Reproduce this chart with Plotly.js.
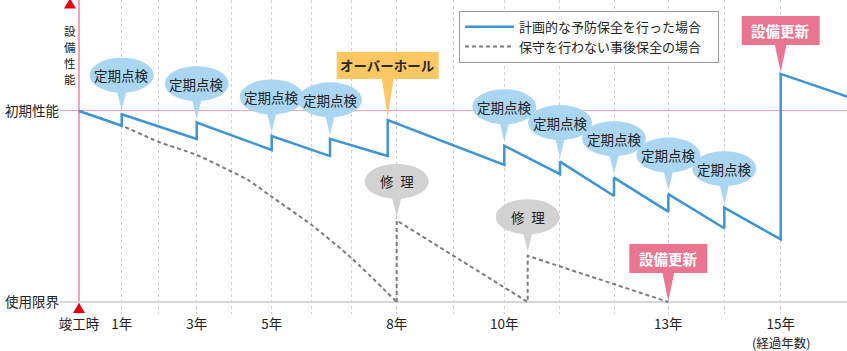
<!DOCTYPE html>
<html><head><meta charset="utf-8">
<script src="https://cdn.plot.ly/plotly-3.0.1.min.js"></script>
<style>html,body{margin:0;padding:0;background:#fff}#chart{width:847px;height:351px}</style>
</head><body><div id="chart"></div>
<script>
// x: schematic position along the elapsed-time axis (0 = 竣工時)
// y: equipment performance (100 = 初期性能, 0 = 使用限界)
const yearPos = [0, 42.7, 79.3, 117.7, 152.7, 192.7, 232.7, 272.7, 317.7, 374, 425.3, 480, 535, 589.3, 645.3, 701.7];
const yearLabels = ['竣工時', '1年', '', '3年', '', '5年', '', '', '8年', '', '10年', '', '', '13年', '', '15年'];
const xAxisUnit = '(経過年数)';
const perfVals = [0, 100];
const perfLabels = ['使用限界', '初期性能'];
const axisTitleChars = ['設', '備', '性', '能'];

const seriesNames = ['計画的な予防保全を行った場合', '保守を行わない事後保全の場合'];

const planX = [0, 42.7, 42.7, 117.7, 117.7, 192.7, 192.7, 251, 251, 308.7, 308.7, 425.3, 425.3, 481, 481, 535, 535, 589.3, 589.3, 645.3, 645.3, 701.7, 701.7, 768];
const planY = [100, 92.3, 98.3, 85.3, 93.9, 79.6, 86.9, 76.4, 85.4, 76.4, 95.3, 71.7, 81.8, 66.9, 73.5, 55.5, 65.1, 47.3, 56.5, 38.6, 49.4, 32.8, 119.4, 107.5];

const decayX = [0, 42.7, 79.3, 117.7, 152.7, 169, 192.7, 232.7, 272.7, 317.7];
const decayY = [100, 92.3, 83.9, 77.0, 68.2, 63.9, 55.1, 40.3, 22.9, 0];
const repairX = [317.7, 317.7, 448.7, 448.7, 589.3];
const repairY = [0, 42.7, 0, 24.2, 0];

const inspectX = [42.7, 117.7, 192.7, 251, 425.3, 481, 535, 589.3, 645.3];
const overhaulX = [308.7];
const renewPlanX = [701.7];
const repairAtX = [317.7, 448.7];
const renewBreakX = [589.3];

const FONT = '"Noto Sans CJK JP", "Noto Sans", sans-serif';
const BLUE = '#3d95d8', GRAY = '#7b7b7b';
const LBLUE = '#aad6f2', LGRAY = '#d2d2d2', PINK = '#ea7590', ORANGE = '#fdc764';
const PAD = '\u00a0\u00a0\u00a0\u00a0';

function topAt(xs, ys, x) {
  let m = -Infinity;
  xs.forEach((v, i) => { if (Math.abs(v - x) < 1e-6 && ys[i] > m) m = ys[i]; });
  return m;
}

const shapes = [], annotations = [];
function pix(o) { return Object.assign({xref: 'x', yref: 'y', xsizemode: 'pixel', ysizemode: 'pixel', line: {width: 0}}, o); }

function bubble(x, y, text, fill) {
  shapes.push(pix({type: 'circle', xanchor: x, yanchor: y, x0: -32, x1: 32, y0: 21.5, y1: 56.5, fillcolor: fill}));
  shapes.push(pix({type: 'path', xanchor: x, yanchor: y, path: 'M-6,28L6,28L0,4Z', fillcolor: fill}));
  annotations.push({x: x, y: y, xref: 'x', yref: 'y', text: text, showarrow: false, yshift: 39,
    font: {family: FONT, size: 13.5, color: '#222'}});
}
function tag(x, y, text, fill, color, halfW, bottom, top, tip, size) {
  shapes.push(pix({type: 'rect', xanchor: x, yanchor: y, x0: -halfW, x1: halfW, y0: bottom, y1: top, fillcolor: fill}));
  shapes.push(pix({type: 'path', xanchor: x, yanchor: y, path: 'M-6,' + (bottom + 1) + 'L6,' + (bottom + 1) + 'L0,' + tip + 'Z', fillcolor: fill}));
  annotations.push({x: x, y: y, xref: 'x', yref: 'y', text: '<b>' + text + '</b>', showarrow: false, yshift: (bottom + top) / 2,
    font: {family: FONT, size: size, color: color}});
}

inspectX.forEach(x => bubble(x, topAt(planX, planY, x), '定期点検', LBLUE));
overhaulX.forEach(x => tag(x, topAt(planX, planY, x), 'オーバーホール', ORANGE, '#2a2a2a', 51, 41, 68, 3, 13.5));
renewPlanX.forEach(x => tag(x, topAt(planX, planY, x), '設備更新', PINK, '#ffffff', 39, 29, 58, 2, 14.5));
repairAtX.forEach(x => bubble(x, topAt(repairX, repairY, x), '修\u2002理', LGRAY));
renewBreakX.forEach(x => tag(x, topAt(repairX, repairY, x), '設備更新', PINK, '#ffffff', 39, 29, 58, 1, 14.5));

// axis triangles
shapes.push({type: 'path', xref: 'x', yref: 'y', xsizemode: 'pixel', ysizemode: 'pixel', xanchor: 0, yanchor: 0,
  path: 'M-6,-11L6,-11L0,-1Z', fillcolor: '#e60012', line: {width: 0}});
shapes.push({type: 'path', xref: 'x', yref: 'paper', xsizemode: 'pixel', ysizemode: 'pixel', xanchor: 0, yanchor: 1,
  path: 'M-15,-8.5L-3,-8.5L-9,1.5Z', fillcolor: '#e60012', line: {width: 0}});
axisTitleChars.forEach((ch, i) => annotations.push({xref: 'x', yref: 'paper', x: 0, y: 1, xshift: -9.5, yshift: -21.5 - 16 * i,
  showarrow: false, text: ch, font: {family: FONT, size: 11.5, color: '#222'}, borderpad: 0}));
// unit under the last tick label
annotations.push({xref: 'x', yref: 'paper', x: yearPos[yearPos.length - 1], y: 0, yshift: -28.5, yanchor: 'middle',
  showarrow: false, text: xAxisUnit, font: {family: FONT, size: 12.5, color: '#222'}, borderpad: 0});

const traces = [
  {x: decayX, y: decayY, mode: 'lines', name: seriesNames[1] + PAD, legendrank: 2, legendgroup: 'b',
   line: {color: GRAY, width: 2, dash: '4px,3px', shape: 'spline', smoothing: 0.7}},
  {x: repairX, y: repairY, mode: 'lines', name: seriesNames[1], showlegend: false, legendgroup: 'b',
   line: {color: GRAY, width: 2, dash: '4px,3px'}},
  {x: planX, y: planY, mode: 'lines', name: seriesNames[0] + PAD, legendrank: 1,
   line: {color: BLUE, width: 2.5}}
];

const layout = {
  width: 847, height: 351,
  margin: {l: 60, r: 0, t: 0, b: 37},
  paper_bgcolor: '#fff', plot_bgcolor: '#fff',
  font: {family: FONT, color: '#222'},
  showlegend: true,
  legend: {x: 0.507, y: 0.966, xanchor: 'left', yanchor: 'top', bgcolor: '#fff', bordercolor: '#999', borderwidth: 1,
    font: {family: FONT, size: 13, color: '#222'}, tracegroupgap: 0, itemwidth: 49},
  xaxis: {range: [-19, 768], tickmode: 'array', tickvals: yearPos, ticktext: yearLabels,
    showgrid: true, gridcolor: '#cfcfcf', griddash: 'dot', gridwidth: 1,
    zeroline: true, zerolinecolor: '#f2a3b3', zerolinewidth: 1.2,
    showline: false, ticks: '', tickfont: {family: FONT, size: 13.5, color: '#222'}, fixedrange: true},
  yaxis: {range: [-6.28, 158.1], tickmode: 'array', tickvals: perfVals, ticktext: perfLabels,
    showgrid: true, gridcolor: '#f2a3b3', gridwidth: 1,
    zeroline: true, zerolinecolor: '#d6d6d6', zerolinewidth: 2.5,
    showline: false, ticks: '', tickfont: {family: FONT, size: 13.5, color: '#222'}, fixedrange: true},
  shapes: shapes,
  annotations: annotations
};

Plotly.newPlot('chart', traces, layout, {displayModeBar: false, staticPlot: true});
</script>
</body></html>
